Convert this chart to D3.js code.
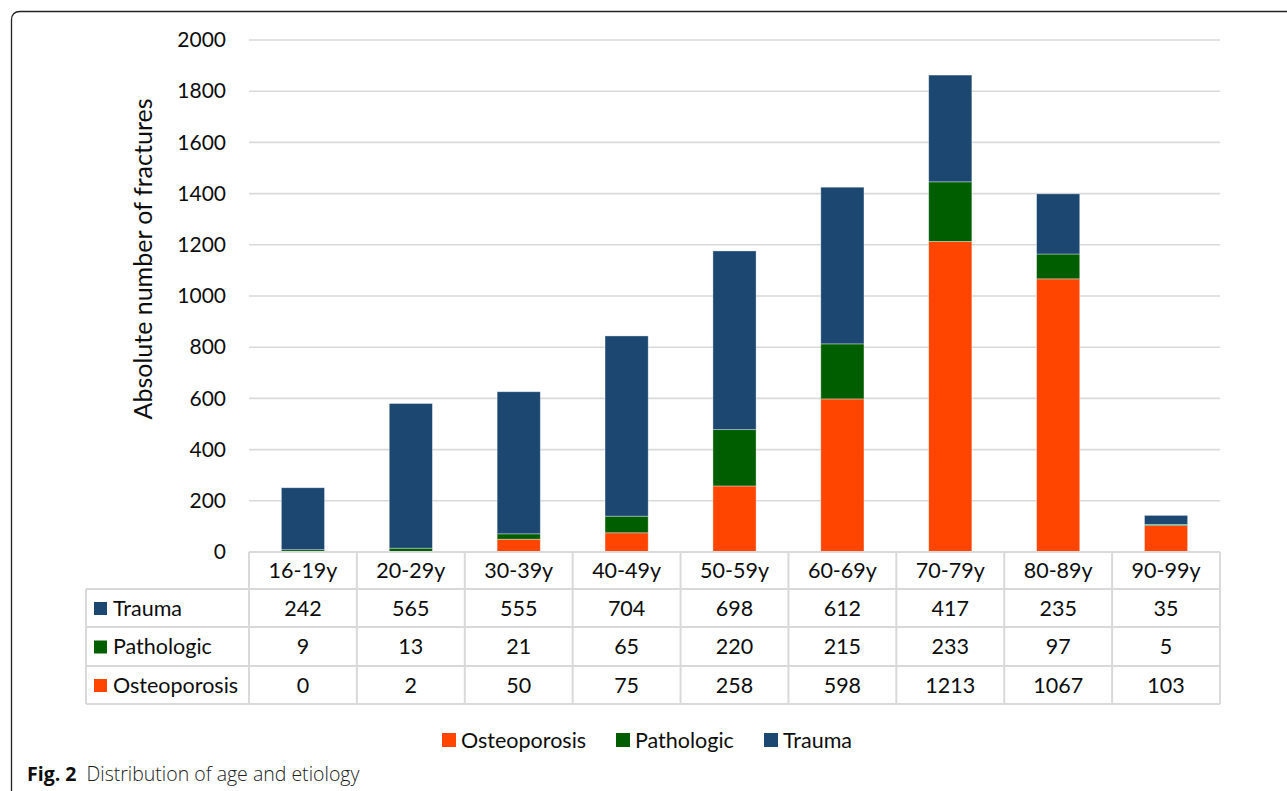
<!DOCTYPE html>
<html>
<head>
<meta charset="utf-8">
<script src="https://cdn.jsdelivr.net/npm/d3@7"></script>
<style>
  html, body { margin: 0; padding: 0; background: #fff; }
  svg { display: block; }
  text { font-family: Lato, "Open Sans", sans-serif; fill: #0d0d0d; }
</style>
</head>
<body>
<svg id="chart" width="1287" height="791"></svg>
<script>
// Age groups and fracture counts by etiology
const ageGroups = ["16-19y", "20-29y", "30-39y", "40-49y", "50-59y", "60-69y", "70-79y", "80-89y", "90-99y"];
const osteoporosis = [0, 2, 50, 75, 258, 598, 1213, 1067, 103];
const pathologic = [9, 13, 21, 65, 220, 215, 233, 97, 5];
const trauma = [242, 565, 555, 704, 698, 612, 417, 235, 35];
const yTicks = [0, 200, 400, 600, 800, 1000, 1200, 1400, 1600, 1800, 2000];

const seriesNames = ["Osteoporosis", "Pathologic", "Trauma"];
const colors = { Osteoporosis: "#FF4500", Pathologic: "#005E00", Trauma: "#1B4770" };

const fontSize = "21.5px";
const svg = d3.select("#chart");

// Frame around the figure (rounded top-left corner)
svg.append("path")
  .attr("d", "M11.5,791 L11.5,20 Q11.5,11.5 20,11.5 L1287,11.5")
  .attr("fill", "none").attr("stroke", "#222").attr("stroke-width", 1.3);

const plotLeft = 249, plotRight = 1220, plotTop = 40, plotBottom = 552;

const x = d3.scaleBand().domain(ageGroups).range([plotLeft, plotRight]).paddingInner(0.6).paddingOuter(0.3);
const xCell = d3.scaleBand().domain(ageGroups).range([plotLeft, plotRight]);
const y = d3.scaleLinear().domain([0, 2000]).range([plotBottom, plotTop]);

// Gridlines
svg.append("g").selectAll("line").data(yTicks).join("line")
  .attr("x1", plotLeft).attr("x2", plotRight)
  .attr("y1", d => y(d)).attr("y2", d => y(d))
  .attr("stroke", "#d9d9d9").attr("stroke-width", 1.6);

// Y axis labels
const yAxis = d3.axisLeft(y).tickValues(yTicks).tickSize(0).tickPadding(0).tickFormat(d3.format("d"));
const yg = svg.append("g").attr("transform", "translate(226,0)").call(yAxis);
yg.select(".domain").remove();
yg.selectAll("text").style("font-size", "21px").style("font-family", "Lato, sans-serif").attr("fill", "#0d0d0d");

// Y axis title
svg.append("text")
  .attr("transform", `translate(152,${259}) rotate(-90)`)
  .attr("text-anchor", "middle")
  .style("font-size", "25px")
  .text("Absolute number of fractures");

// Stacked bars
const rows = ageGroups.map((g, i) => ({ group: g, Osteoporosis: osteoporosis[i], Pathologic: pathologic[i], Trauma: trauma[i] }));
const stack = d3.stack().keys(seriesNames)(rows);

svg.append("g").selectAll("g").data(stack).join("g")
  .attr("fill", d => colors[d.key])
  .selectAll("rect").data(d => d).join("rect")
  .attr("x", d => x(d.data.group))
  .attr("width", x.bandwidth())
  .attr("y", d => y(d[1]))
  .attr("height", d => y(d[0]) - y(d[1]))
  .attr("stroke", "rgba(255,255,255,0.45)").attr("stroke-width", 0.8);

// Data table below the plot
const tableLeft = 86;
const rowEdges = [552, 589, 627, 666, 704];
const tableRows = [
  { name: "Trauma", values: trauma },
  { name: "Pathologic", values: pathologic },
  { name: "Osteoporosis", values: osteoporosis }
];
const tg = svg.append("g");
const gridColor = "#d9d9d9";

// horizontal rules
tg.append("line").attr("x1", plotLeft).attr("x2", plotRight).attr("y1", rowEdges[0]).attr("y2", rowEdges[0])
  .attr("stroke", gridColor).attr("stroke-width", 2);
rowEdges.slice(1).forEach(yy => {
  tg.append("line").attr("x1", tableLeft).attr("x2", plotRight).attr("y1", yy).attr("y2", yy)
    .attr("stroke", gridColor).attr("stroke-width", 2);
});
// vertical rules
tg.append("line").attr("x1", tableLeft).attr("x2", tableLeft).attr("y1", rowEdges[1]).attr("y2", rowEdges[4])
  .attr("stroke", gridColor).attr("stroke-width", 2);
ageGroups.forEach(g => {
  tg.append("line").attr("x1", xCell(g)).attr("x2", xCell(g)).attr("y1", rowEdges[0]).attr("y2", rowEdges[4])
    .attr("stroke", gridColor).attr("stroke-width", 2);
});
tg.append("line").attr("x1", plotRight).attr("x2", plotRight).attr("y1", rowEdges[0]).attr("y2", rowEdges[4])
  .attr("stroke", gridColor).attr("stroke-width", 2);

// header labels
tg.selectAll("text.hdr").data(ageGroups).join("text").attr("class", "hdr")
  .attr("x", d => xCell(d) + xCell.bandwidth() / 2)
  .attr("y", (rowEdges[0] + rowEdges[1]) / 2 + 7.5)
  .attr("text-anchor", "middle").style("font-size", fontSize)
  .text(d => d);

tableRows.forEach((r, ri) => {
  const cy = (rowEdges[ri + 1] + rowEdges[ri + 2]) / 2;
  tg.append("rect").attr("x", 94).attr("y", cy - 6).attr("width", 13).attr("height", 13)
    .attr("fill", colors[r.name]);
  tg.append("text").attr("x", 113).attr("y", cy + 7.5).style("font-size", fontSize).text(r.name);
  tg.selectAll(null).data(r.values).join("text")
    .attr("x", (d, i) => xCell(ageGroups[i]) + xCell.bandwidth() / 2)
    .attr("y", cy + 7.5)
    .attr("text-anchor", "middle").style("font-size", fontSize)
    .text(d => d);
});

// Legend
const legendItems = [
  { name: "Osteoporosis", x: 442 },
  { name: "Pathologic", x: 616 },
  { name: "Trauma", x: 764 }
];
const lg = svg.append("g");
legendItems.forEach(it => {
  lg.append("rect").attr("x", it.x).attr("y", 733).attr("width", 14).attr("height", 14).attr("fill", colors[it.name]);
  lg.append("text").attr("x", it.x + 19).attr("y", 748).style("font-size", fontSize).text(it.name);
});

// Caption
const cap = svg.append("text").attr("x", 27).attr("y", 781)
  .style("font-family", "'Open Sans', sans-serif").style("font-size", "19.5px");
cap.append("tspan").style("font-weight", "bold").text("Fig. 2");
cap.append("tspan").attr("dx", 10).style("font-weight", "300").attr("fill", "#222").text("Distribution of age and etiology");
</script>
</body>
</html>
